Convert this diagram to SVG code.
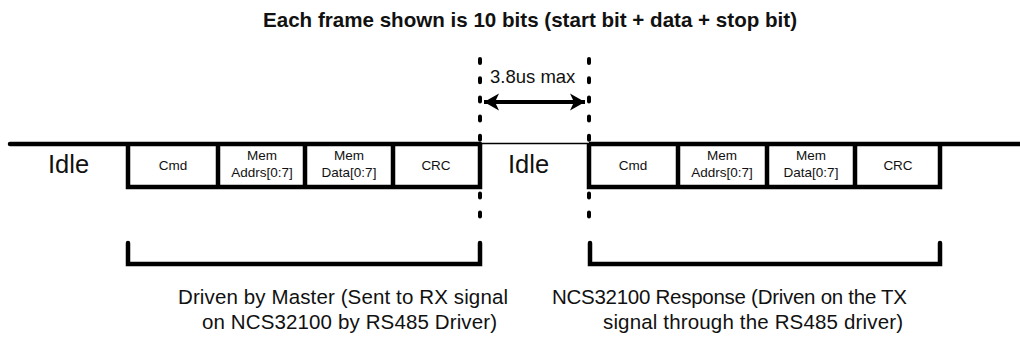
<svg xmlns="http://www.w3.org/2000/svg" width="1020" height="343" viewBox="0 0 1020 343">
  <style>
    text { font-family: "Liberation Sans", Arial, sans-serif; fill: #111; }
    .title { font-weight: bold; font-size: 20.5px; }
    .idle { font-size: 25.5px; }
    .field { font-size: 13.5px; text-anchor: middle; }
    .note { font-size: 20.5px; }
    .gap { font-size: 18.5px; }
    .thick { fill: none; stroke: #000; stroke-width: 4.5; stroke-linejoin: miter; }
    .thin { fill: none; stroke: #000; stroke-width: 1.5; }
    .dash { fill: none; stroke: #000; stroke-width: 4; stroke-linecap: round; stroke-dasharray: 4 15.2; }
    .brace { fill: none; stroke: #000; stroke-width: 4.5; stroke-linecap: round; }
  </style>
  <defs>
    <marker id="head" markerUnits="userSpaceOnUse" markerWidth="16" markerHeight="18" refX="15" refY="9" orient="auto-start-reverse">
      <path d="M0,0.5 L15,9 L0,17.5 L4,9 Z" fill="#000"/>
    </marker>
  </defs>

  <text class="title" x="263" y="27" textLength="534" lengthAdjust="spacingAndGlyphs">Each frame shown is 10 bits (start bit + data + stop bit)</text>

  <!-- bus line: idle high, then the two frames -->
  <g id="bus">
    <path class="thick" d="M10,144 H480" stroke-linecap="round"/>
    <path class="thin" d="M480,143.5 H589"/>
    <path class="thick" d="M589,144 H1020"/>
  </g>

  <g id="idle-1"><text class="idle" x="48" y="173">Idle</text></g>
  <g id="idle-2"><text class="idle" x="508" y="173">Idle</text></g>

  <!-- master request frame -->
  <g id="frame-master">
    <path class="thick" d="M128,144 V187 H480 V144"/>
    <path class="thick" d="M218,144 V187 M305,144 V187 M393,144 V187"/>
    <text class="field" x="173" y="170">Cmd</text>
    <text class="field" x="262" y="160">Mem</text>
    <text class="field" x="262" y="177">Addrs[0:7]</text>
    <text class="field" x="349" y="160">Mem</text>
    <text class="field" x="349" y="177">Data[0:7]</text>
    <text class="field" x="436" y="170">CRC</text>
  </g>

  <!-- slave response frame -->
  <g id="frame-response">
    <path class="thick" d="M589,144 V187 H940 V144"/>
    <path class="thick" d="M678,144 V187 M767,144 V187 M855,144 V187"/>
    <text class="field" x="633" y="170">Cmd</text>
    <text class="field" x="722" y="160">Mem</text>
    <text class="field" x="722" y="177">Addrs[0:7]</text>
    <text class="field" x="811" y="160">Mem</text>
    <text class="field" x="811" y="177">Data[0:7]</text>
    <text class="field" x="898" y="170">CRC</text>
  </g>

  <!-- turnaround gap markers -->
  <g id="connectors">
    <path class="dash" d="M480,59 V218"/>
    <path class="dash" d="M589,59 V218"/>
    <path d="M484,102 H585" stroke="#000" stroke-width="4" marker-start="url(#head)" marker-end="url(#head)"/>
  </g>
  <g id="gap-label"><text class="gap" x="490" y="83">3.8us max</text></g>

  <!-- ownership brackets -->
  <g id="bracket-master">
    <path class="brace" d="M128,243 V264 H480 V243"/>
    <text class="note" x="178" y="304" textLength="330">Driven by Master (Sent to RX signal</text>
    <text class="note" x="202" y="329" textLength="295">on NCS32100 by RS485 Driver)</text>
  </g>
  <g id="bracket-response">
    <path class="brace" d="M590,243 V264 H940 V243"/>
    <text class="note" x="552" y="304" textLength="355">NCS32100 Response (Driven on the TX</text>
    <text class="note" x="603" y="329" textLength="300">signal through the RS485 driver)</text>
  </g>
</svg>
